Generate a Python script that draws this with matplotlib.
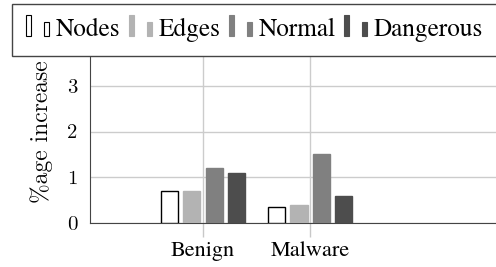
import matplotlib.pyplot as plt
import numpy as np
from matplotlib.patches import Rectangle, Patch
from matplotlib.legend_handler import HandlerBase

plt.rcParams['font.family'] = ['TeX Gyre Termes', 'Liberation Serif', 'DejaVu Serif']
cm = ['Latin Modern Roman', 'DejaVu Serif']

groups = ['Benign', 'Malware']
series = ['Nodes', 'Edges', 'Normal', 'Dangerous']
nodes = [0.7, 0.35]
edges = [0.7, 0.4]
normal = [1.2, 1.5]
dangerous = [1.1, 0.6]
values = [nodes, edges, normal, dangerous]
colors = ['white', '#b3b3b3', '#808080', '#4d4d4d']
edgecols = ['black', '#b3b3b3', '#808080', '#4d4d4d']


class TwoBars(HandlerBase):
    # pgfplots style ybar legend image: a tall and a short bar sitting on the baseline
    def create_artists(self, legend, orig_handle, xdescent, ydescent,
                       width, height, fontsize, trans):
        fc = orig_handle.get_facecolor()
        ec = orig_handle.get_edgecolor()
        w = 0.2 * fontsize
        r1 = Rectangle((0, 0), w, 0.83 * fontsize,
                       facecolor=fc, edgecolor=ec, lw=0.8, transform=trans)
        r2 = Rectangle((0.71 * fontsize, 0), w, 0.55 * fontsize,
                       facecolor=fc, edgecolor=ec, lw=0.8, transform=trans)
        return [r1, r2]


fig = plt.figure(figsize=(4.96, 2.67), dpi=100)
ax = fig.add_axes([90/496, 1-223/267, 1-90/496, (223-40)/267])

x = np.arange(len(groups))
bw = 0.159
step = 0.206
handles = []
for i, (vals, c, ec) in enumerate(zip(values, colors, edgecols)):
    ax.bar(x + (i - 1.5) * step, vals, bw, color=c, edgecolor=ec, linewidth=1, zorder=3)
    handles.append(Patch(facecolor=c, edgecolor=ec))

ax.set_xlim(-1.056, 2.738)
ax.set_ylim(0, 4)
ax.set_xticks(x)
ax.set_xticklabels(groups, fontsize=16)
ax.set_yticks([0, 1, 2, 3])
ax.set_yticklabels(['0', '1', '2', '3'], fontsize=15, family=cm)
ax.tick_params(axis='y', length=0, pad=9)
ax.tick_params(axis='x', length=10, color='#c8c8c8', width=1, pad=3)
ax.grid(True, color='#cccccc', lw=1, zorder=0)
for s in ['top', 'right']:
    ax.spines[s].set_visible(False)
for s in ['left', 'bottom']:
    ax.spines[s].set_color('#444444')
ax.set_ylabel('%age increase', fontsize=17, family=cm, labelpad=10)

leg = fig.legend(handles, series, loc='upper left', bbox_to_anchor=(12/496, 1-4/267),
                 borderaxespad=0, ncol=4, handler_map={Patch: TwoBars()}, fontsize=18.2,
                 handlelength=0.87, handleheight=0.55, handletextpad=0.32,
                 columnspacing=0.32, borderpad=0.55, fancybox=False, framealpha=1)
leg.get_frame().set_edgecolor('#444444')
leg.get_frame().set_linewidth(1)

fig.savefig('out.png', dpi=100)
